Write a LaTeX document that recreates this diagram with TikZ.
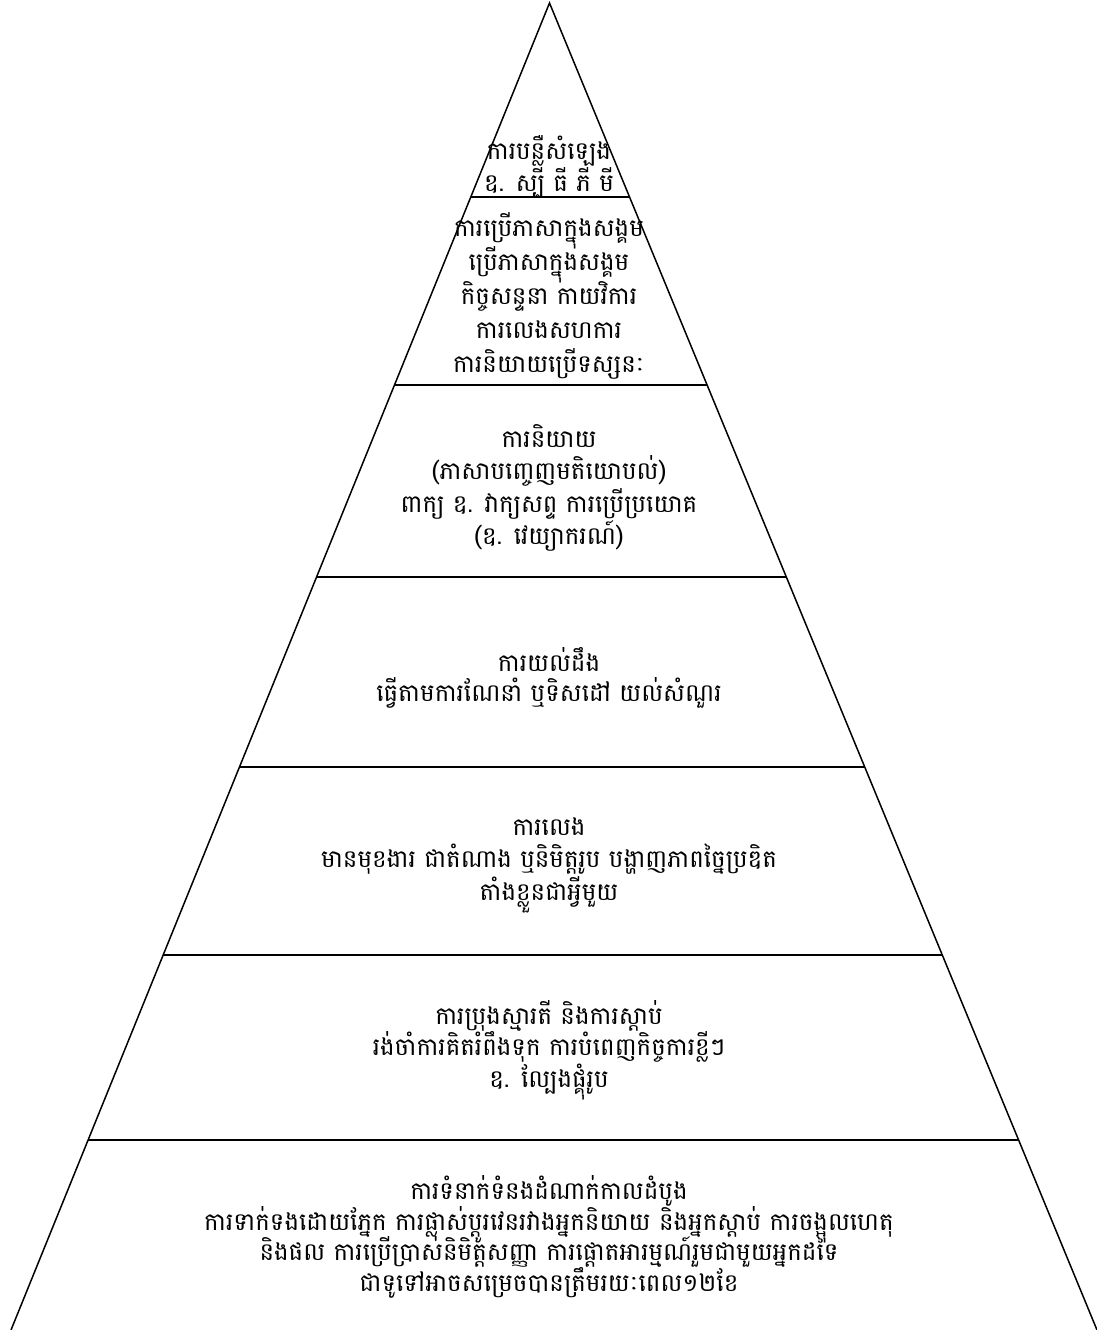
\documentclass[tikz,border=0pt]{standalone}
\usepackage{fontspec}
\newfontfamily\khmer[Script=Khmer]{Battambang}
\newcommand\khsize[1]{\khmer\fontsize{24.5}{#1}\selectfont\lineskiplimit-100pt\relax}
\usetikzlibrary{calc}
\begin{document}
\begin{tikzpicture}[x=1pt,y=-1pt,
  layertext/.style={align=center,inner sep=0pt,font=\khsize{32.5}},
  tier/.style={line width=1.5pt,black}]
\useasboundingbox (0,0) rectangle (1097,1330);
\coordinate (apex) at (549.5,3);
\coordinate (bl) at (11,1330);
\coordinate (br) at (1097,1330);
\draw[tier,line join=miter] (bl) -- (apex) -- (br);
\foreach \yy [count=\i] in {197,385,577,767,955,1140}{
  \pgfmathsetmacro{\t}{(\yy-3)/1327}
  \draw[tier] ($(apex)!\t!(bl)$) coordinate (L\i) -- ($(apex)!\t!(br)$) coordinate (R\i);
}
\node[layertext] (t1) at (549,167) {ការបន្លឺសំឡេង\\ឧ. ស្បី ធី ភី មី};
\node[layertext,font=\khsize{34}] (t2) at (549,296) {ការប្រើភាសាក្នុងសង្គម\\ប្រើភាសាក្នុងសង្គម\\កិច្ចសន្ទនា កាយវិការ\\ការលេងសហការ\\ការនិយាយប្រើទស្សនៈ};
\node[layertext] (t3) at (549,488) {ការនិយាយ\\(ភាសាបញ្ចេញមតិយោបល់)\\ពាក្យ ឧ. វាក្យសព្ទ ការប្រើប្រយោគ\\(ឧ. វេយ្យាករណ៍)};
\node[layertext,font=\khsize{30.5}] (t4) at (549,678) {ការយល់ដឹង\\ធ្វើតាមការណែនាំ ឬទិសដៅ យល់សំណួរ};
\node[layertext] (t5) at (549,865) {ការលេង\\មានមុខងារ ជាតំណាង ឬនិមិត្តរូប បង្ហាញភាពច្នៃប្រឌិត\\តាំងខ្លួនជាអ្វីមួយ};
\node[layertext,font=\khsize{31.5}] (t6) at (549,1050) {ការប្រុងស្មារតី និងការស្តាប់\\រង់ចាំការគិតរំពឹងទុក ការបំពេញកិច្ចការខ្លីៗ\\ឧ. ល្បែងផ្គុំរូប};
\node[layertext,font=\khsize{30.5}] (t7) at (549,1237) {ការទំនាក់ទំនងដំណាក់កាលដំបូង\\ការទាក់ទងដោយភ្នែក ការផ្លាស់ប្តូរវេនរវាងអ្នកនិយាយ និងអ្នកស្តាប់ ការចង្អុលហេតុ\\និងផល ការប្រើប្រាស់និមិត្តសញ្ញា ការផ្តោតអារម្មណ៍រួមជាមួយអ្នកដទៃ\\ជាទូទៅអាចសម្រេចបានត្រឹមរយៈពេល១២ខែ};
\end{tikzpicture}
\end{document}
